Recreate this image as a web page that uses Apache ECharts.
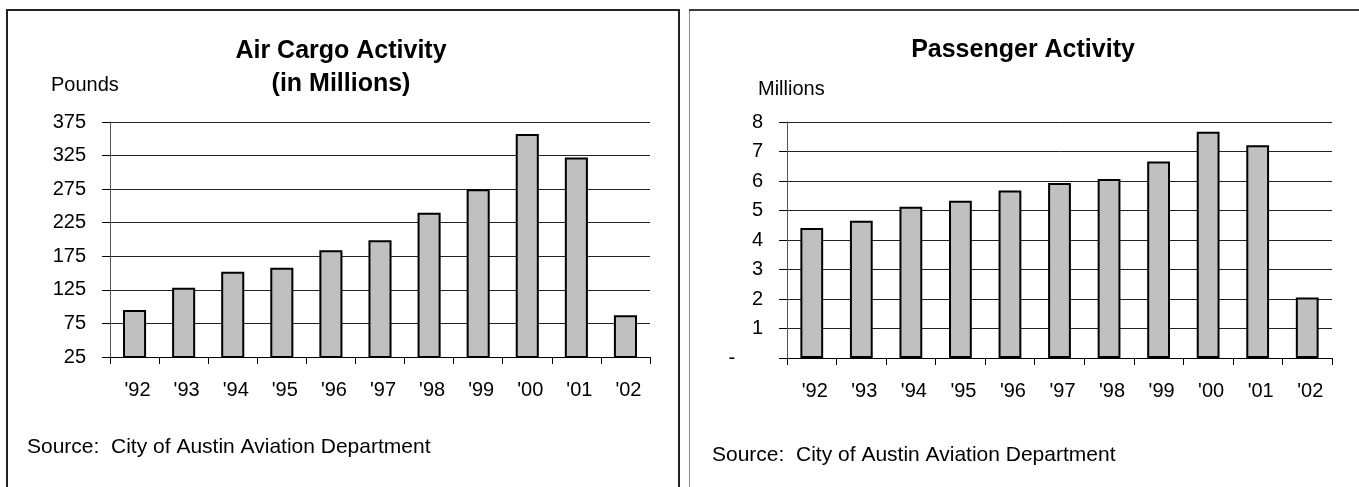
<!DOCTYPE html>
<html>
<head>
<meta charset="utf-8">
<script src="https://cdn.jsdelivr.net/npm/echarts@6/dist/echarts.min.js"></script>
<style>
html,body{margin:0;padding:0;background:#fff;}
#chart{width:1359px;height:487px;}
</style>
</head>
<body>
<div id="chart"></div>
<script>
// ---- data ----
var categories = ["'92", "'93", "'94", "'95", "'96", "'97", "'98", "'99", "'00", "'01", "'02"];
var cargoPounds = [95, 128, 152, 158, 184, 199, 240, 275, 357, 322, 87];
var passengers = [4.41, 4.65, 5.13, 5.33, 5.68, 5.93, 6.07, 6.66, 7.67, 7.21, 2.05];
var cargoTitle = 'Air Cargo Activity\n(in Millions)';
var passengerTitle = 'Passenger Activity';
var cargoUnit = 'Pounds';
var passengerUnit = 'Millions';
var sourceText = 'Source:  City of Austin Aviation Department';

var FONT = 'Liberation Sans, Arial, sans-serif';
var chart = echarts.init(document.getElementById('chart'), null, {renderer: 'canvas'});

function xAxisCfg(gridIndex) {
  return {
    type: 'category', gridIndex: gridIndex, data: categories, boundaryGap: true,
    axisLine: {show: true, lineStyle: {color: '#000', width: 1}},
    axisTick: {show: true, alignWithLabel: false, length: 7, lineStyle: {color: '#000', width: 1}},
    axisLabel: {color: '#000', fontFamily: FONT, fontSize: 20, margin: 23, padding: [0, 0, 0, 6]},
    splitLine: {show: false}
  };
}
function yAxisCfg(gridIndex, min, max, interval, fmt) {
  return {
    type: 'value', gridIndex: gridIndex, min: min, max: max, interval: interval,
    axisLine: {show: true, lineStyle: {color: '#555', width: 1}},
    axisTick: {show: true, length: 8, lineStyle: {color: '#000', width: 1}},
    axisLabel: {color: '#000', fontFamily: FONT, fontSize: 20, margin: 24, formatter: fmt},
    splitLine: {show: true, lineStyle: {color: '#222', width: 1}}
  };
}
var barStyle = {color: '#c0c0c0', borderColor: '#000', borderWidth: 2};

var option = {
  backgroundColor: '#fff',
  animation: false,
  title: [
    {text: cargoTitle, left: 341, top: 35, padding: 0, textAlign: 'center',
     textStyle: {fontFamily: FONT, fontWeight: 'bold', fontSize: 25, lineHeight: 33, color: '#000'}},
    {text: passengerTitle, left: 1023, top: 34, padding: 0, textAlign: 'center',
     textStyle: {fontFamily: FONT, fontWeight: 'bold', fontSize: 25, lineHeight: 33, color: '#000'}},
    {text: cargoUnit, left: 51, top: 73, padding: 0,
     textStyle: {fontFamily: FONT, fontWeight: 'normal', fontSize: 20, lineHeight: 24, color: '#000'}},
    {text: passengerUnit, left: 758, top: 77, padding: 0,
     textStyle: {fontFamily: FONT, fontWeight: 'normal', fontSize: 20, lineHeight: 24, color: '#000'}},
    {text: sourceText, left: 27, top: 435, padding: 0,
     textStyle: {fontFamily: FONT, fontWeight: 'normal', fontSize: 21, lineHeight: 24, color: '#000'}},
    {text: sourceText, left: 712, top: 443, padding: 0,
     textStyle: {fontFamily: FONT, fontWeight: 'normal', fontSize: 21, lineHeight: 24, color: '#000'}}
  ],
  graphic: [
    {type: 'polyline', silent: true, shape: {points: [[7, 500], [7, 10], [679, 10], [679, 500]]},
     style: {stroke: '#222', lineWidth: 2, fill: null}},
    {type: 'polyline', silent: true, shape: {points: [[689.5, 500], [689.5, 10], [1365, 10]]},
     style: {stroke: '#888', lineWidth: 1, fill: null}},
    {type: 'line', silent: true, shape: {x1: 689, y1: 10, x2: 1365, y2: 10},
     style: {stroke: '#111', lineWidth: 1.5}}
  ],
  grid: [
    {left: 110, right: 709, top: 122, bottom: 130, containLabel: false},
    {left: 787, right: 27, top: 122, bottom: 129, containLabel: false}
  ],
  xAxis: [xAxisCfg(0), xAxisCfg(1)],
  yAxis: [
    yAxisCfg(0, 25, 375, 50, function (v) { return String(v); }),
    yAxisCfg(1, 0, 8, 1, function (v) { return v === 0 ? '-     ' : String(v); })
  ],
  series: [
    {type: 'bar', xAxisIndex: 0, yAxisIndex: 0, data: cargoPounds, barWidth: '47%', itemStyle: barStyle},
    {type: 'bar', xAxisIndex: 1, yAxisIndex: 1, data: passengers, barWidth: '46%', itemStyle: barStyle}
  ]
};
chart.setOption(option);
</script>
</body>
</html>
